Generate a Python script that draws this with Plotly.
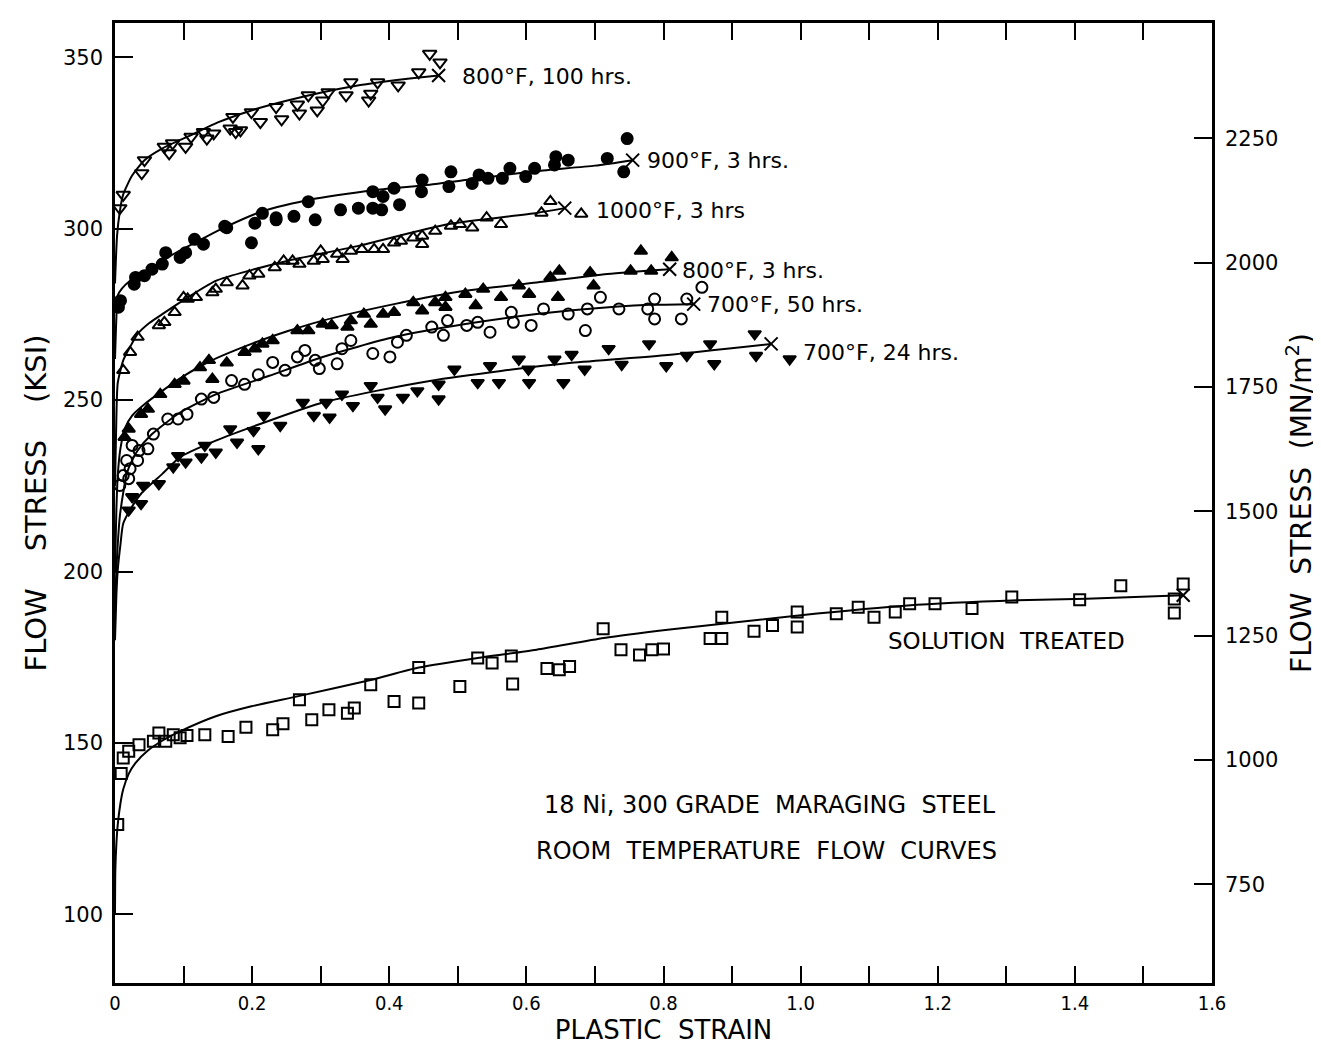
import plotly.graph_objects as go

# ---------------- data ----------------
# 800°F, 100 hrs  (open down-triangles)
d800_100_x = [0.012,0.007,0.043,0.039,0.072,0.079,0.084,0.103,0.111,0.129,0.134,0.144,0.168,0.172,0.176,0.183,0.199,0.212,0.235,0.243,0.266,0.269,0.282,0.295,0.303,0.311,0.337,0.344,0.370,0.373,0.383,0.413,0.443,0.459,0.474]
d800_100_y = [309.9,306.0,320.0,316.2,323.9,322.0,324.9,323.9,326.8,328.2,326.3,327.8,329.2,332.6,328.2,328.7,334.0,331.1,335.5,331.9,336.2,333.6,338.9,334.5,337.4,339.8,338.9,342.7,337.4,339.4,342.7,341.8,345.6,351.0,348.5]
c800_100_x = [0.0,0.003,0.007,0.012,0.025,0.043,0.07,0.111,0.15,0.199,0.25,0.303,0.35,0.386,0.43,0.472]
c800_100_y = [284,298,305,310,315.5,320,323.5,327.3,331,334.5,337.3,339.8,341.6,342.7,343.8,344.7]

# 900°F, 3 hrs (filled circles)
d900_x = [0.005,0.008,0.028,0.030,0.043,0.054,0.069,0.074,0.095,0.103,0.116,0.129,0.160,0.163,0.199,0.204,0.215,0.235,0.235,0.261,0.282,0.292,0.329,0.355,0.376,0.376,0.389,0.391,0.407,0.415,0.447,0.448,0.487,0.490,0.521,0.531,0.544,0.565,0.576,0.599,0.612,0.641,0.643,0.661,0.718,0.742,0.747]
d900_y = [277.1,279.0,283.8,285.8,286.3,288.2,289.7,293.0,291.6,293.0,296.9,295.5,300.7,300.3,295.9,301.6,304.5,302.6,303.2,303.6,307.9,302.6,305.5,306.0,306.0,310.8,305.5,309.4,311.8,307.0,310.8,314.2,312.3,316.6,313.2,315.7,314.7,314.7,317.6,315.2,317.6,318.6,321.0,320.0,320.5,316.6,326.3]
c900_x = [0.0,0.002,0.004,0.01,0.022,0.035,0.054,0.08,0.121,0.16,0.215,0.282,0.381,0.459,0.511,0.615,0.70,0.755]
c900_y = [262,274,280.5,282.5,284.8,286.5,288.4,292,296.4,300.4,305.1,308.4,311.3,312.8,314.2,316.8,318.4,320.0]

# 1000°F, 3 hrs (open up-triangles)
d1000_x = [0.012,0.022,0.033,0.064,0.072,0.087,0.100,0.106,0.118,0.142,0.147,0.163,0.186,0.196,0.209,0.233,0.246,0.259,0.269,0.290,0.300,0.303,0.324,0.332,0.344,0.360,0.378,0.391,0.407,0.417,0.435,0.448,0.448,0.467,0.490,0.503,0.521,0.542,0.563,0.622,0.635,0.680]
d1000_y = [258.7,264.0,268.4,271.8,272.7,275.6,280.0,279.5,280.0,281.4,282.4,284.3,283.4,286.3,286.8,288.7,290.6,290.6,289.7,290.6,293.5,291.1,292.6,291.1,293.5,294.0,294.0,294.0,295.9,296.4,297.4,297.9,295.5,299.3,300.8,301.3,300.3,303.2,301.3,304.6,308.0,304.3]
c1000_x = [0.0,0.002,0.004,0.012,0.022,0.033,0.05,0.069,0.1,0.147,0.2,0.251,0.355,0.485,0.615,0.656]
c1000_y = [225,245,255,261.6,265.5,269.3,272.5,275.1,279.2,284.8,288.0,290.6,295.0,301.3,304.6,306.0]

# 800°F, 3 hrs (filled up-triangles)
d800_3_x = [0.014,0.020,0.038,0.048,0.066,0.087,0.100,0.124,0.142,0.163,0.137,0.189,0.204,0.215,0.230,0.266,0.282,0.303,0.316,0.339,0.344,0.363,0.373,0.391,0.407,0.435,0.448,0.467,0.482,0.482,0.511,0.526,0.537,0.563,0.589,0.604,0.635,0.646,0.648,0.693,0.698,0.752,0.767,0.782,0.812]
d800_3_y = [239.2,241.6,245.9,247.4,251.7,254.6,255.6,259.5,256.1,260.9,261.6,264.0,265.0,266.4,267.4,270.3,270.3,272.2,271.8,271.3,273.2,275.1,272.2,275.1,275.6,278.5,276.1,278.5,280.0,277.1,280.9,277.6,282.4,280.0,283.4,280.9,285.8,280.0,287.7,287.2,283.4,287.7,293.5,287.7,291.6]
c800_3_x = [0.0,0.002,0.004,0.008,0.015,0.025,0.043,0.069,0.1,0.137,0.199,0.25,0.303,0.407,0.511,0.615,0.718,0.809]
c800_3_y = [200,218,228,236,242,245.5,248.8,252.7,257,261.2,266.4,270,273.2,278.0,281.9,284.3,286.8,288.2]

# 700°F, 50 hrs (open circles)
d700_50_x = [0.007,0.012,0.017,0.020,0.022,0.025,0.033,0.035,0.048,0.056,0.077,0.092,0.105,0.126,0.144,0.170,0.189,0.209,0.230,0.248,0.266,0.277,0.292,0.298,0.324,0.331,0.344,0.376,0.401,0.412,0.425,0.462,0.479,0.485,0.513,0.529,0.547,0.578,0.581,0.607,0.625,0.661,0.686,0.689,0.708,0.735,0.777,0.787,0.787,0.826,0.834,0.856]
d700_50_y = [225.1,228.0,232.4,227.1,230.0,236.8,232.4,235.3,235.8,240.1,244.5,244.5,245.9,250.3,250.8,255.7,254.6,257.4,261.0,258.7,262.6,264.5,261.6,259.2,260.6,265.0,267.4,263.6,262.6,266.9,268.9,271.3,268.9,273.2,271.8,272.7,269.8,275.6,272.7,271.8,276.6,275.1,270.3,276.6,280.0,276.6,276.6,279.5,273.7,273.7,279.5,282.9]
c700_50_x = [0.0,0.002,0.004,0.007,0.012,0.017,0.025,0.033,0.054,0.075,0.095,0.147,0.225,0.303,0.407,0.511,0.615,0.734,0.78,0.844]
c700_50_y = [190,200.5,208,216,223,228.5,232.5,235.3,240.1,243.5,246.4,251.7,257.1,262.6,268.4,272.2,275.1,277.3,277.8,278.0]

# 700°F, 24 hrs (filled down-triangles)
d700_24_x = [0.020,0.025,0.038,0.041,0.064,0.085,0.092,0.103,0.126,0.131,0.147,0.168,0.178,0.202,0.209,0.217,0.241,0.274,0.290,0.308,0.313,0.331,0.347,0.373,0.383,0.394,0.420,0.441,0.472,0.472,0.495,0.529,0.547,0.560,0.589,0.603,0.604,0.641,0.654,0.666,0.685,0.720,0.739,0.779,0.804,0.834,0.868,0.874,0.933,0.935,0.984]
d700_24_y = [217.9,221.8,219.8,225.1,225.6,230.5,233.8,231.9,233.4,236.8,234.8,241.6,237.7,241.1,235.8,245.5,242.6,249.3,245.5,249.3,245.0,251.7,248.4,254.2,250.8,247.4,250.8,252.7,254.6,250.3,259.0,255.1,260.0,255.1,261.9,259.0,255.1,261.9,255.1,263.3,259.0,265.0,260.4,266.4,260.0,263.0,266.4,260.6,269.3,263.0,262.0]
c700_24_x = [0.0,0.002,0.004,0.008,0.012,0.025,0.038,0.069,0.095,0.147,0.225,0.303,0.381,0.459,0.563,0.666,0.806,0.957]
c700_24_y = [180,193,200.5,208,214,219,222.7,228.5,233.4,238.2,244.0,249.3,252.7,255.6,258.5,260.9,263.2,266.4]

# Solution treated (open squares)
dst_x = [0.004,0.009,0.012,0.020,0.035,0.056,0.064,0.074,0.085,0.095,0.105,0.131,0.165,0.191,0.230,0.245,0.269,0.287,0.312,0.339,0.349,0.373,0.407,0.443,0.443,0.503,0.529,0.550,0.578,0.580,0.630,0.648,0.663,0.712,0.738,0.765,0.783,0.800,0.868,0.885,0.885,0.932,0.959,0.995,0.995,1.052,1.084,1.107,1.138,1.159,1.196,1.250,1.308,1.407,1.467,1.545,1.545,1.558]
dst_y = [126.2,141.1,145.6,147.6,149.5,150.5,152.9,150.5,152.4,151.5,152.2,152.4,151.9,154.6,153.9,155.6,162.6,156.8,159.7,158.7,160.2,167.0,162.1,161.7,172.0,166.5,174.8,173.3,175.4,167.2,171.7,171.4,172.3,183.3,177.2,175.7,177.2,177.4,180.5,180.5,186.7,182.6,184.3,188.2,183.8,187.7,189.6,186.7,188.2,190.6,190.6,189.2,192.6,191.8,195.9,192.0,187.9,196.4]
cst_x = [0.0,0.0005,0.002,0.004,0.008,0.012,0.02,0.03,0.048,0.07,0.095,0.147,0.199,0.266,0.373,0.443,0.529,0.615,0.713,0.806,0.997,1.156,1.316,1.417,1.558]
cst_y = [100,113,120.5,126.2,132.5,136.5,141.0,144.2,147.8,150.8,153.4,157.8,160.7,163.6,168.4,172.0,174.8,177.2,180.6,183.0,187.2,190.1,191.6,192.1,193.1]

# fracture points (X) at the end of each curve
end_x = [0.472, 0.755, 0.656, 0.809, 0.844, 0.957, 1.558]
end_y = [344.7, 320.0, 306.0, 288.2, 278.0, 266.4, 193.1]

# curve labels
label_text = ["800°F, 100 hrs.", "900°F, 3 hrs.", "1000°F, 3 hrs", "800°F, 3 hrs.",
              "700°F, 50 hrs.", "700°F, 24 hrs."]
label_x = [0.503, 0.773, 0.698, 0.824, 0.860, 1.000]
label_y = [344.5, 320.0, 305.3, 287.8, 277.8, 263.8]

x_tick_vals = [0, 0.2, 0.4, 0.6, 0.8, 1.0, 1.2, 1.4, 1.6]
x_tick_text = ["0", "0.2", "0.4", "0.6", "0.8", "1.0", "1.2", "1.4", "1.6"]
ksi_ticks = [100, 150, 200, 250, 300, 350]
mn_ticks = [750, 1000, 1250, 1500, 1750, 2000, 2250]
KSI_TO_MN = 6.895
y_range = [80.0, 360.0]

# ---------------- figure ----------------
fig = go.Figure()
BLACK = "black"
open_line = dict(color=BLACK, width=2)

def add_curve(cx, cy):
    fig.add_trace(go.Scatter(x=cx, y=cy, mode="lines",
                             line=dict(color=BLACK, width=2, shape="spline", smoothing=0.6),
                             hoverinfo="skip", showlegend=False))

def add_pts(dx, dy, symbol, size):
    fig.add_trace(go.Scatter(x=dx, y=dy, mode="markers",
                             marker=dict(symbol=symbol, size=size, color=BLACK, line=open_line),
                             showlegend=False))

for cx, cy in [(c800_100_x, c800_100_y), (c900_x, c900_y), (c1000_x, c1000_y),
               (c800_3_x, c800_3_y), (c700_50_x, c700_50_y), (c700_24_x, c700_24_y),
               (cst_x, cst_y)]:
    add_curve(cx, cy)

add_pts(d800_100_x, d800_100_y, "triangle-down-open", 12)
add_pts(d900_x, d900_y, "circle", 11)
add_pts(d1000_x, d1000_y, "triangle-up-open", 11)
add_pts(d800_3_x, d800_3_y, "triangle-up", 11)
add_pts(d700_50_x, d700_50_y, "circle-open", 11)
add_pts(d700_24_x, d700_24_y, "triangle-down", 11)
add_pts(dst_x, dst_y, "square-open", 11)

fig.add_trace(go.Scatter(x=end_x, y=end_y, mode="markers",
                         marker=dict(symbol="x-thin-open", size=13, color=BLACK,
                                     line=dict(color=BLACK, width=2)),
                         showlegend=False))

# invisible trace on the right axis (MN/m^2)
fig.add_trace(go.Scatter(x=[0], y=[1000], yaxis="y2", mode="markers",
                         marker=dict(opacity=0), hoverinfo="skip", showlegend=False))

LABEL_FONT = dict(family="DejaVu Sans", size=22, color=BLACK)
NOTE_FONT = dict(family="DejaVu Sans", size=24, color=BLACK)
for t, lx, ly in zip(label_text, label_x, label_y):
    fig.add_annotation(x=lx, y=ly, text=t, showarrow=False, xanchor="left",
                       yanchor="middle", font=LABEL_FONT)

fig.add_annotation(x=1.30, y=179.8, text="SOLUTION  TREATED", showarrow=False,
                   font=dict(family="DejaVu Sans", size=23, color=BLACK))
fig.add_annotation(x=0.955, y=132.0, text="18 Ni, 300 GRADE  MARAGING  STEEL",
                   showarrow=False, font=NOTE_FONT)
fig.add_annotation(x=0.950, y=118.5, text="ROOM  TEMPERATURE  FLOW  CURVES",
                   showarrow=False, font=NOTE_FONT)

fig.update_layout(
    width=1321, height=1045,
    margin=dict(l=107, r=117, t=13, b=67),
    paper_bgcolor="white", plot_bgcolor="white",
    showlegend=False,
    xaxis=dict(range=[0, 1.6], tickvals=x_tick_vals, ticktext=x_tick_text,
               ticks="inside", ticklen=17, tickwidth=1.5, tickcolor=BLACK,
               minor=dict(dtick=0.1, ticks="inside", ticklen=17, tickwidth=1.5, tickcolor=BLACK),
               showline=True, linecolor=BLACK, linewidth=2.5, mirror="ticks",
               showgrid=False, zeroline=False,
               tickfont=dict(family="DejaVu Sans Condensed", size=20, color=BLACK),
               title=dict(text="PLASTIC  STRAIN", standoff=8,
                          font=dict(family="DejaVu Sans", size=26, color=BLACK))),
    yaxis=dict(range=y_range, tickvals=ksi_ticks, ticks="inside", ticklen=18,
               tickwidth=1.5, tickcolor=BLACK, showline=True, linecolor=BLACK, linewidth=2.5,
               showgrid=False, zeroline=False, ticklabelstandoff=5,
               tickfont=dict(family="DejaVu Sans", size=21, color=BLACK),
               title=dict(text="FLOW    STRESS    (KSI)", standoff=8,
                          font=dict(family="DejaVu Sans", size=29, color=BLACK))),
    yaxis2=dict(range=[y_range[0] * KSI_TO_MN, y_range[1] * KSI_TO_MN], overlaying="y",
                side="right", tickvals=mn_ticks, ticktext=[str(v) for v in mn_ticks],
                ticks="inside", ticklen=18, tickwidth=1.5, tickcolor=BLACK,
                showline=True, linecolor=BLACK, linewidth=2.5, showgrid=False, zeroline=False,
                ticklabelstandoff=6,
                tickfont=dict(family="DejaVu Sans", size=21, color=BLACK),
                title=dict(text="FLOW  STRESS  (MN/m<sup>2</sup>)", standoff=14,
                           font=dict(family="DejaVu Sans", size=28, color=BLACK))),
)

fig.write_html("out.html")
